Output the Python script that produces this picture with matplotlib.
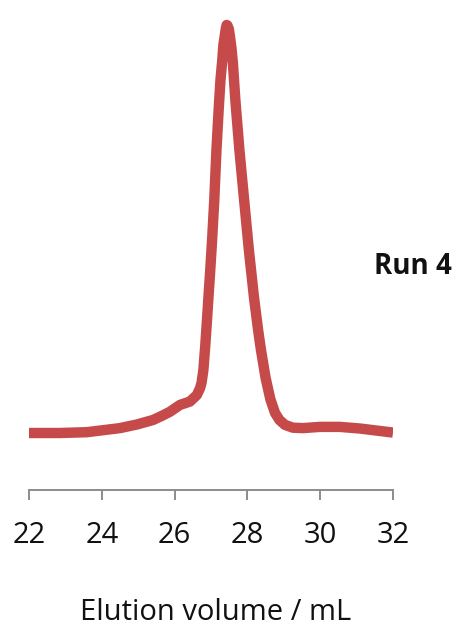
import matplotlib
matplotlib.use('Agg')
import matplotlib.pyplot as plt

# elution profile (normalised signal, peak = 1)
volume = [22.00, 22.85, 23.59, 24.50, 24.97, 25.41, 25.65, 25.87, 26.15, 26.42,
          26.61, 26.70, 26.74, 26.79, 26.84, 26.89, 26.93, 26.98, 27.03, 27.09,
          27.15, 27.21, 27.26, 27.31, 27.34, 27.38, 27.41, 27.43, 27.45, 27.49,
          27.52, 27.56, 27.60, 27.63, 27.67, 27.78, 27.91, 28.04, 28.18, 28.29,
          28.37, 28.50, 28.63, 28.76, 28.88, 29.03, 29.25, 29.53, 29.99, 30.54,
          31.09, 31.64, 32.00]
signal = [0.000, 0.000, 0.002, 0.012, 0.021, 0.032, 0.042, 0.052, 0.069, 0.077,
          0.093, 0.110, 0.123, 0.154, 0.211, 0.277, 0.333, 0.400, 0.473, 0.571,
          0.694, 0.792, 0.865, 0.914, 0.951, 0.975, 0.993, 1.000, 0.999, 0.990,
          0.972, 0.945, 0.908, 0.868, 0.815, 0.694, 0.571, 0.449, 0.333, 0.255,
          0.205, 0.135, 0.083, 0.049, 0.032, 0.020, 0.013, 0.012, 0.015, 0.015,
          0.011, 0.005, 0.001]
xticks = [22, 24, 26, 28, 30, 32]

plt.rcParams['font.family'] = ['Open Sans', 'DejaVu Sans']

fig = plt.figure(figsize=(4.54, 6.29), dpi=100)
ax = fig.add_axes([29 / 454, 1 - 490 / 629, (393 - 29) / 454, (490 - 10) / 629])

ax.plot(volume, signal, color='#C64A4A', linewidth=7.5,
        solid_capstyle='butt', solid_joinstyle='round')

ax.set_xlim(22, 32)
ax.set_ylim(-0.1397, 1.0368)
ax.set_xticks(xticks)
ax.set_xticklabels([str(t) for t in xticks], fontsize=21)
ax.set_yticks([])
for side in ['left', 'right', 'top']:
    ax.spines[side].set_visible(False)
ax.spines['bottom'].set_color('#8c8c8c')
ax.spines['bottom'].set_linewidth(1.4)
ax.tick_params(axis='x', direction='out', length=7.5, width=1.4,
               color='#8c8c8c', pad=15, labelcolor='#111111')

fig.text(413 / 454, 1 - 266 / 629, 'Run 4', ha='center', va='center',
         fontsize=20, fontweight='bold', color='#111111')
fig.text(216 / 454, 1 - 613 / 629, 'Elution volume / mL', ha='center',
         va='center', fontsize=21, color='#111111')

fig.savefig('out.png', dpi=100)
